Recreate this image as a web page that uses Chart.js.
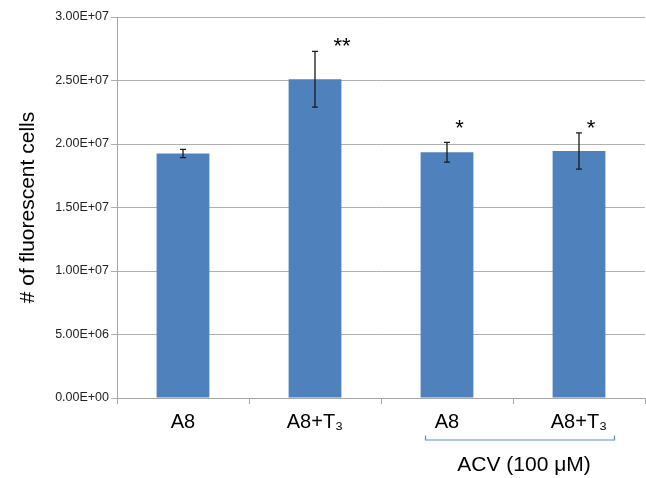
<!DOCTYPE html>
<html>
<head>
<meta charset="utf-8">
<script src="https://cdn.jsdelivr.net/npm/chart.js@4.4.1/dist/chart.umd.min.js"></script>
<style>
  html, body { margin: 0; padding: 0; background: #fff; }
  #wrap { width: 646px; height: 478px; }
</style>
</head>
<body>
<div id="wrap"><canvas id="chart"></canvas></div>
<script>
// data
const categories = ["A8", "A8+T₃", "A8", "A8+T₃"];
const cellCounts = [1.925e7, 2.51e7, 1.935e7, 1.945e7];
const errors = [0.033e7, 0.22e7, 0.078e7, 0.143e7];
const significance = ["", "**", "*", "*"];
const significanceLevel = [null, 2.79e7, 2.145e7, 2.145e7];
const yTicks = [0, 5e6, 1e7, 1.5e7, 2e7, 2.5e7, 3e7];
const groupLabel = "ACV (100 μM)";
const groupRange = [2, 3];

const FONT = "'Liberation Sans', Arial, Helvetica, sans-serif";

// 3.00E+07 style labels
function sci(v) {
  if (v === 0) return "0.00E+00";
  const exp = Math.floor(Math.log10(Math.abs(v)));
  const mant = v / Math.pow(10, exp);
  return mant.toFixed(2) + "E+" + String(exp).padStart(2, "0");
}

// error bars, stars and the ACV bracket
const extrasPlugin = {
  id: "extras",
  afterDatasetsDraw(chart) {
    const ctx = chart.ctx;
    const x = chart.scales.x;
    const y = chart.scales.y;

    ctx.save();
    ctx.strokeStyle = "#1a1a1a";
    ctx.lineWidth = 1.3;
    cellCounts.forEach((v, i) => {
      const cx = x.getPixelForValue(i);
      const top = y.getPixelForValue(v + errors[i]);
      const bot = y.getPixelForValue(v - errors[i]);
      ctx.beginPath();
      ctx.moveTo(cx, top);
      ctx.lineTo(cx, bot);
      ctx.moveTo(cx - 3, top);
      ctx.lineTo(cx + 3, top);
      ctx.moveTo(cx - 3, bot);
      ctx.lineTo(cx + 3, bot);
      ctx.stroke();
    });

    // significance stars
    const starOffset = [0, 27, 12.5, 12];
    ctx.fillStyle = "#000";
    ctx.font = "22px " + FONT;
    ctx.textAlign = "center";
    ctx.textBaseline = "alphabetic";
    significance.forEach((s, i) => {
      if (!s) return;
      const cx = x.getPixelForValue(i) + starOffset[i];
      const cy = y.getPixelForValue(significanceLevel[i]);
      ctx.fillText(s, cx, cy + 9.5);
    });
    ctx.restore();
  },
  afterDraw(chart) {
    const ctx = chart.ctx;
    const x = chart.scales.x;
    const left = x.getPixelForValue(groupRange[0]) - 21.5;
    const right = x.getPixelForValue(groupRange[1]) + 35.5;
    const lineY = 440;

    ctx.save();
    ctx.strokeStyle = "#5b8bc9";
    ctx.lineWidth = 1.2;
    ctx.beginPath();
    ctx.moveTo(left, lineY - 4.5);
    ctx.lineTo(left, lineY);
    ctx.lineTo(right, lineY);
    ctx.lineTo(right, lineY - 4.5);
    ctx.stroke();

    ctx.fillStyle = "#000";
    ctx.font = "21px " + FONT;
    ctx.textAlign = "center";
    ctx.textBaseline = "alphabetic";
    ctx.fillText(groupLabel, (left + right) / 2 + 4, 471);
    ctx.restore();
  },
};

const ctx = document.getElementById("chart").getContext("2d");
const chart = new Chart(ctx, {
  type: "bar",
  data: {
    labels: categories,
    datasets: [
      {
        data: cellCounts,
        backgroundColor: "#4f81bd",
        borderWidth: 0,
        barPercentage: 0.4,
        categoryPercentage: 1.0,
      },
    ],
  },
  options: {
    responsive: true,
    maintainAspectRatio: false,
    animation: false,
    layout: {
      padding: { top: 17, right: 1, left: 0, bottom: 0 },
    },
    plugins: {
      legend: { display: false },
      tooltip: { enabled: false },
    },
    scales: {
      x: {
        grid: {
          offset: true,
          drawOnChartArea: false,
          color: "#a6a6a6",
          tickLength: 6,
        },
        border: { color: "#a6a6a6" },
        ticks: {
          color: "#000",
          font: { family: FONT, size: 20 },
          padding: 6,
          maxRotation: 0,
        },
        afterFit(scale) {
          scale.height = 80;
        },
      },
      y: {
        min: 0,
        max: 3e7,
        afterBuildTicks(scale) {
          scale.ticks = yTicks.map((v) => ({ value: v }));
        },
        grid: {
          color: "#b0b0b0",
          tickLength: 6,
        },
        border: { color: "#a6a6a6" },
        ticks: {
          color: "#222",
          font: { family: FONT, size: 12.5 },
          padding: 2,
          callback: (v) => sci(v),
        },
        title: {
          display: true,
          text: "# of fluorescent cells",
          color: "#000",
          font: { family: FONT, size: 21 },
          padding: { top: 16, bottom: 0 },
        },
        afterFit(scale) {
          scale.width = 117;
        },
      },
    },
  },
  plugins: [extrasPlugin],
});
</script>
</body>
</html>
